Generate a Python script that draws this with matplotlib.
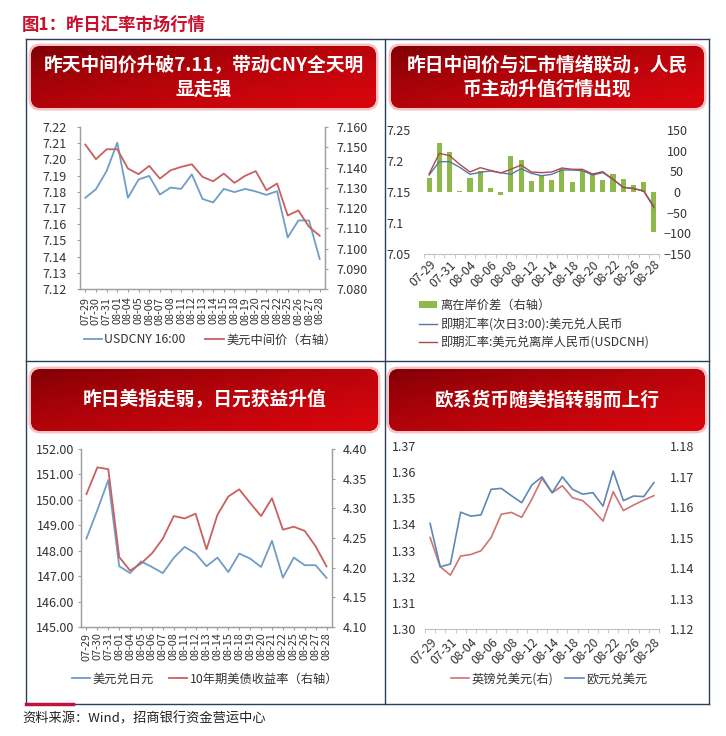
import matplotlib
matplotlib.use("Agg")
import matplotlib.pyplot as plt
from matplotlib.patches import FancyBboxPatch, Patch
from matplotlib.lines import Line2D
import numpy as np

plt.rcParams['font.family'] = ['Noto Sans CJK SC', 'DejaVu Sans']
plt.rcParams['axes.unicode_minus'] = True

# ---------------- data ----------------
dates = ['07-29', '07-30', '07-31', '08-01', '08-04', '08-05', '08-06', '08-07',
         '08-08', '08-11', '08-12', '08-13', '08-14', '08-15', '08-18', '08-19',
         '08-20', '08-21', '08-22', '08-25', '08-26', '08-27', '08-28']

# panel 1
usdcny_1600 = [7.1763, 7.1816, 7.1929, 7.2103, 7.1763, 7.1876, 7.1898, 7.1783,
               7.1826, 7.1818, 7.1908, 7.1756, 7.1734, 7.1818, 7.1798, 7.1818,
               7.1802, 7.1781, 7.1804, 7.1518, 7.1623, 7.1623, 7.1385]
cny_central = [7.1513, 7.1441, 7.1490, 7.1490, 7.1395, 7.1367, 7.1408, 7.1345,
               7.1386, 7.1403, 7.1416, 7.1354, 7.1332, 7.1370, 7.1324, 7.1359,
               7.1382, 7.1288, 7.1321, 7.1163, 7.1188, 7.1107, 7.1063]
# panel 2
cnh_cny_spread = [34, 119, 97, 2, 34, 50, 9, -8, 88, 78, 26, 40, 29, 55, 23, 50,
                  46, 29, 44, 32, 16, 23, -97]
cny_spot_3am = [7.1774, 7.1989, 7.1989, 7.1898, 7.1785, 7.1817, 7.1839, 7.1812,
                7.1785, 7.1876, 7.1801, 7.1763, 7.1785, 7.1855, 7.1855, 7.1844,
                7.1774, 7.1812, 7.1704, 7.1575, 7.1559, 7.1516, 7.1274]
usdcnh = [7.1790, 7.2124, 7.2086, 7.1946, 7.1823, 7.1892, 7.1849, 7.1806,
          7.1866, 7.1935, 7.1823, 7.1812, 7.1823, 7.1887, 7.1866, 7.1866,
          7.1790, 7.1828, 7.1704, 7.1575, 7.1554, 7.1516, 7.1247]
# panel 3
usdjpy = [148.48, 149.60, 150.78, 147.39, 147.12, 147.58, 147.36, 147.12,
          147.72, 148.15, 147.89, 147.39, 147.73, 147.16, 147.89, 147.69,
          147.36, 148.39, 146.94, 147.73, 147.43, 147.43, 146.93]
ust10y = [4.324, 4.369, 4.366, 4.218, 4.195, 4.207, 4.224, 4.249, 4.287, 4.283,
          4.291, 4.231, 4.289, 4.320, 4.332, 4.309, 4.287, 4.317, 4.264, 4.269,
          4.262, 4.236, 4.202]
# panel 4
gbpusd = [1.3350, 1.3238, 1.3206, 1.3279, 1.3285, 1.3299, 1.3350, 1.3439,
          1.3446, 1.3427, 1.3496, 1.3576, 1.3521, 1.3548, 1.3502, 1.3491,
          1.3455, 1.3413, 1.3525, 1.3453, 1.3474, 1.3493, 1.3510]
eurusd = [1.1546, 1.1404, 1.1413, 1.1583, 1.1570, 1.1574, 1.1658, 1.1661,
          1.1637, 1.1614, 1.1672, 1.1699, 1.1647, 1.1699, 1.1658, 1.1642,
          1.1647, 1.1603, 1.1718, 1.1621, 1.1636, 1.1634, 1.1680]

# tick labels
p1_left_ticks = [7.12, 7.13, 7.14, 7.15, 7.16, 7.17, 7.18, 7.19, 7.20, 7.21, 7.22]
p1_left_labels = ['7.12', '7.13', '7.14', '7.15', '7.16', '7.17', '7.18', '7.19', '7.20', '7.21', '7.22']
p1_right_ticks = [7.08, 7.09, 7.10, 7.11, 7.12, 7.13, 7.14, 7.15, 7.16]
p1_right_labels = ['7.080', '7.090', '7.100', '7.110', '7.120', '7.130', '7.140', '7.150', '7.160']
p2_left_ticks = [7.05, 7.10, 7.15, 7.20, 7.25]
p2_left_labels = ['7.05', '7.1', '7.15', '7.2', '7.25']
p2_right_ticks = [-150, -100, -50, 0, 50, 100, 150]
p2_right_labels = ['\u2212150', '\u2212100', '\u221250', '0', '50', '100', '150']
p3_left_ticks = [145, 146, 147, 148, 149, 150, 151, 152]
p3_left_labels = ['145.00', '146.00', '147.00', '148.00', '149.00', '150.00', '151.00', '152.00']
p3_right_ticks = [4.10, 4.15, 4.20, 4.25, 4.30, 4.35, 4.40]
p3_right_labels = ['4.10', '4.15', '4.20', '4.25', '4.30', '4.35', '4.40']
p4_left_ticks = [1.30, 1.31, 1.32, 1.33, 1.34, 1.35, 1.36, 1.37]
p4_left_labels = ['1.30', '1.31', '1.32', '1.33', '1.34', '1.35', '1.36', '1.37']
p4_right_ticks = [1.12, 1.13, 1.14, 1.15, 1.16, 1.17, 1.18]
p4_right_labels = ['1.12', '1.13', '1.14', '1.15', '1.16', '1.17', '1.18']

fig_title = '图1：昨日汇率市场行情'
source_text = '资料来源：Wind，招商银行资金营运中心'
banner_texts = ['昨天中间价升破7.11，带动CNY全天明\n显走强',
                '昨日中间价与汇市情绪联动，人民\n币主动升值行情出现',
                '昨日美指走弱，日元获益升值',
                '欧系货币随美指转弱而上行']
legend1 = ['USDCNY 16:00', '美元中间价（右轴）']
legend2 = ['离在岸价差（右轴）', '即期汇率(次日3:00):美元兑人民币', '即期汇率:美元兑离岸人民币(USDCNH)']
legend3 = ['美元兑日元', '10年期美债收益率（右轴）']
legend4 = ['英镑兑美元(右)', '欧元兑美元']

# ---------------- figure ----------------
W, H = 726, 736
fig = plt.figure(figsize=(W / 100, H / 100), dpi=100)
fig.patch.set_facecolor('white')

bg = fig.add_axes([0, 0, 1, 1])
bg.set_xlim(0, W)
bg.set_ylim(H, 0)
bg.axis('off')

FRAME = '#2B3F5C'
bg.plot([26, 709], [39, 39], color=FRAME, lw=1.0)
bg.plot([26, 709], [704, 704], color=FRAME, lw=1.0)
bg.plot([26, 26], [39, 704], color=FRAME, lw=1.0)
bg.plot([709, 709], [39, 704], color=FRAME, lw=1.0)
bg.plot([385, 385], [39, 704], color=FRAME, lw=1.0)
bg.plot([26, 709], [361, 361], color=FRAME, lw=1.0)
bg.plot([26, 73], [704, 704], color='#C0143C', lw=2.5)

bg.text(22, 25, fig_title, color='#C8102E', fontsize=12.5, fontweight='bold',
        ha='left', va='center')
bg.text(22, 719, source_text, color='#222222', fontsize=9.5, ha='left', va='center')


def banner(l, t, r, b, text):
    glow = FancyBboxPatch((l - 2.5, t - 2.5), (r - l) + 5, (b - t) + 5,
                          boxstyle="round,pad=0,rounding_size=12",
                          fc='#F4C4C4', ec='none', zorder=1)
    bg.add_patch(glow)
    box = FancyBboxPatch((l, t), r - l, b - t,
                         boxstyle="round,pad=0,rounding_size=10",
                         fc='#B00A10', ec='none', zorder=2)
    bg.add_patch(box)
    xx = np.linspace(0, 1, 200)
    yy = np.linspace(0, 1, 60)
    X, Y = np.meshgrid(xx, yy)
    g = np.clip(0.6 * X + 0.5 * Y, 0, 1) ** 0.7
    c0 = np.array([0.48, 0.0, 0.02])
    c1 = np.array([0.84, 0.02, 0.05])
    img = c0 + (c1 - c0) * g[..., None]
    im = bg.imshow(img, extent=(l, r, b, t), aspect='auto', zorder=3,
                   interpolation='bilinear')
    im.set_clip_path(box)
    bg.text((l + r) / 2, (t + b) / 2, text, color='white', fontsize=13.5,
            fontweight='bold', ha='center', va='center', linespacing=1.35, zorder=4)


banner(31, 46, 376, 108, banner_texts[0])
banner(391, 46, 704, 108, banner_texts[1])
banner(31, 369, 378, 431, banner_texts[2])
banner(389, 369, 705, 431, banner_texts[3])
bg.set_xlim(0, W)
bg.set_ylim(H, 0)


def rect(l, t, r, b):
    return [l / W, 1 - b / H, (r - l) / W, (b - t) / H]


x = np.arange(len(dates))
GRAY = '#A0A0A0'
TXT = '#333333'


def style_classic(ax, axr, xlab_pad):
    for a in (ax, axr):
        a.set_facecolor('none')
        a.spines['top'].set_visible(False)
        for s in ['left', 'right', 'bottom']:
            a.spines[s].set_color(GRAY)
            a.spines[s].set_linewidth(0.9)
        a.tick_params(axis='y', direction='out', length=2.5, width=0.8, color=GRAY,
                      labelsize=9, labelcolor=TXT)
    ax.set_xlim(-0.5, len(dates) - 0.5)
    ax.set_xticks(x)
    ax.set_xticklabels(dates, rotation=90)
    ax.tick_params(axis='x', direction='out', length=2.5, width=0.8, color=GRAY,
                   labelsize=7.8, labelcolor=TXT, pad=xlab_pad)


def style_clean(ax, axr, xlab_pad):
    for a in (ax, axr):
        a.set_facecolor('none')
        for s in ['top', 'left', 'right']:
            a.spines[s].set_visible(False)
        a.tick_params(axis='y', length=0, labelsize=9, labelcolor=TXT)
    ax.spines['bottom'].set_color('#BFBFBF')
    axr.spines['bottom'].set_visible(False)
    ax.set_xlim(-0.5, len(dates) - 0.5)
    ax.set_xticks(x[::2])
    ax.set_xticklabels(dates[::2], rotation=45, ha='right', rotation_mode='anchor')
    ax.set_xticks(np.arange(-0.5, len(dates)), minor=True)
    ax.tick_params(axis='x', which='major', length=0, labelsize=8.8,
                   labelcolor=TXT, pad=xlab_pad)
    ax.tick_params(axis='x', which='minor', length=3, color='#BFBFBF')


# ---------- panel 1 ----------
BLUE1 = '#6F9DC8'
RED1 = '#C86060'
ax1 = fig.add_axes(rect(80, 127, 325, 289))
ax1r = ax1.twinx()
style_classic(ax1, ax1r, 3)
ax1.plot(x, usdcny_1600, color=BLUE1, lw=1.3)
ax1r.plot(x, cny_central, color=RED1, lw=1.3)
ax1.set_ylim(7.12, 7.22)
ax1.set_yticks(p1_left_ticks)
ax1.set_yticklabels(p1_left_labels)
ax1r.set_ylim(7.08, 7.16)
ax1r.set_yticks(p1_right_ticks)
ax1r.set_yticklabels(p1_right_labels)
ax1.tick_params(axis='y', pad=7)
ax1r.tick_params(axis='y', pad=6)

fig.legend([Line2D([], [], color=BLUE1, lw=1.3), Line2D([], [], color=RED1, lw=1.3)],
           legend1, loc='center', bbox_to_anchor=(210 / W, 1 - 340 / H), ncol=2,
           frameon=False, fontsize=8.8, handlelength=1.5, handletextpad=0.2,
           columnspacing=1.6, labelcolor=TXT)

# ---------- panel 2 ----------
BLUE2 = '#5578A8'
RED2 = '#B04848'
GREEN = '#8DB84A'
ax2 = fig.add_axes(rect(424, 130, 659, 254))
ax2r = ax2.twinx()
style_clean(ax2, ax2r, 3)
ax2r.bar(x, cnh_cny_spread, width=0.5, color=GREEN)
ax2.plot(x, cny_spot_3am, color=BLUE2, lw=1.0)
ax2.plot(x, usdcnh, color=RED2, lw=1.0)
ax2.set_zorder(ax2r.get_zorder() + 1)
ax2.patch.set_visible(False)
ax2.set_ylim(7.05, 7.25)
ax2.set_yticks(p2_left_ticks)
ax2.set_yticklabels(p2_left_labels)
for lbl in ax2.get_yticklabels():
    lbl.set_ha('left')
ax2.tick_params(axis='y', pad=27)
ax2r.set_ylim(-150, 150)
ax2r.set_yticks(p2_right_ticks)
ax2r.set_yticklabels(p2_right_labels)
for lbl in ax2r.get_yticklabels():
    lbl.set_ha('center')
ax2r.tick_params(axis='y', pad=13)

fig.legend([Patch(facecolor=GREEN, edgecolor='none'),
            Line2D([], [], color=BLUE2, lw=1.0), Line2D([], [], color=RED2, lw=1.0)],
           legend2, loc='center left', bbox_to_anchor=(408 / W, 1 - 324 / H), ncol=1,
           frameon=False, fontsize=8.8, handlelength=1.5, handleheight=0.5,
           handletextpad=0.2, labelspacing=0.45, labelcolor=TXT)

# ---------- panel 3 ----------
ax3 = fig.add_axes(rect(81, 449, 332, 627))
ax3r = ax3.twinx()
style_classic(ax3, ax3r, 1.5)
ax3.plot(x, usdjpy, color=BLUE1, lw=1.3)
ax3r.plot(x, ust10y, color=RED1, lw=1.3)
ax3.set_ylim(145, 152)
ax3.set_yticks(p3_left_ticks)
ax3.set_yticklabels(p3_left_labels)
ax3r.set_ylim(4.10, 4.40)
ax3r.set_yticks(p3_right_ticks)
ax3r.set_yticklabels(p3_right_labels)
ax3.tick_params(axis='y', pad=2)
ax3r.tick_params(axis='y', pad=5)

fig.legend([Line2D([], [], color=BLUE1, lw=1.3), Line2D([], [], color=RED1, lw=1.3)],
           legend3, loc='center', bbox_to_anchor=(205 / W, 1 - 679 / H), ncol=2,
           frameon=False, fontsize=8.8, handlelength=1.5, handletextpad=0.2,
           columnspacing=1.2, labelcolor=TXT)

# ---------- panel 4 ----------
BLUE4 = '#5F87B5'
RED4 = '#D07272'
ax4 = fig.add_axes(rect(425, 446, 659, 629))
ax4r = ax4.twinx()
style_clean(ax4, ax4r, 5)
ax4.plot(x, gbpusd, color=RED4, lw=1.2)
ax4r.plot(x, eurusd, color=BLUE4, lw=1.2)
ax4.set_ylim(1.30, 1.37)
ax4.set_yticks(p4_left_ticks)
ax4.set_yticklabels(p4_left_labels)
ax4.tick_params(axis='y', pad=6)
ax4r.set_ylim(1.12, 1.18)
ax4r.set_yticks(p4_right_ticks)
ax4r.set_yticklabels(p4_right_labels)
ax4r.tick_params(axis='y', pad=8)

fig.legend([Line2D([], [], color=RED4, lw=1.2), Line2D([], [], color=BLUE4, lw=1.2)],
           legend4, loc='center', bbox_to_anchor=(549 / W, 1 - 679 / H), ncol=2,
           frameon=False, fontsize=8.8, handlelength=1.5, handletextpad=0.2,
           columnspacing=1.0, labelcolor=TXT)

fig.savefig('out.png', dpi=100)
